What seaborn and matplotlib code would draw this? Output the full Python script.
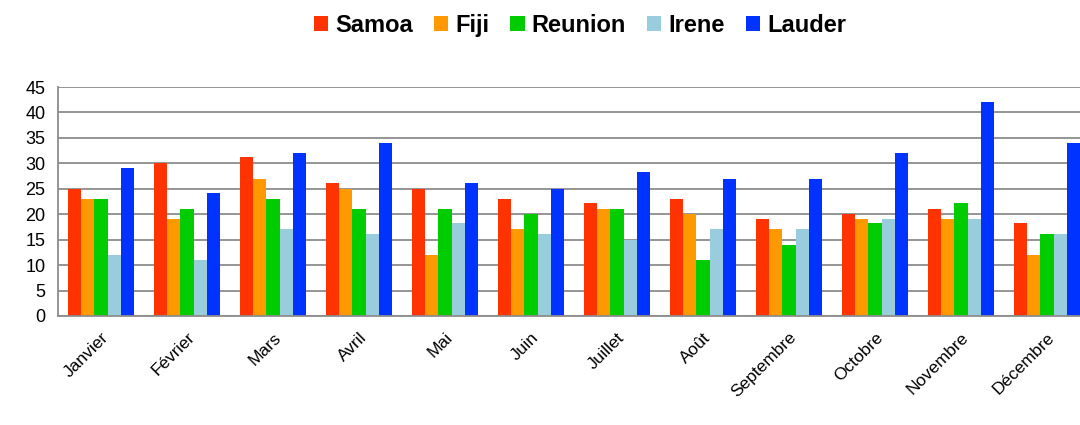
import matplotlib
matplotlib.use("Agg")
import matplotlib.pyplot as plt
from matplotlib.patches import Patch
import pandas as pd
import seaborn as sns

months = ["Janvier", "Février", "Mars", "Avril", "Mai", "Juin", "Juillet",
          "Août", "Septembre", "Octobre", "Novembre", "Décembre"]
stations = ["Samoa", "Fiji", "Reunion", "Irene", "Lauder"]

samoa = [25, 30, 31.3, 26.2, 25, 23, 22.2, 23, 19, 20, 21, 18.2]
fiji = [23, 19, 27, 25, 12, 17, 21, 20, 17, 19, 19, 12]
reunion = [23, 21, 23, 21, 21, 20, 21, 11.1, 13.9, 18.2, 22.2, 16.2]
irene = [12, 11.1, 17, 16.2, 18.2, 16.2, 15, 17, 17, 19, 19, 16.2]
lauder = [29, 24.2, 32, 34, 26.2, 25, 28.2, 27, 27, 32, 42, 34]

colors = ["#FF3300", "#FF9900", "#00CC00", "#99CCDD", "#0033FF"]

df = pd.DataFrame({
    "Mois": months * 5,
    "Station": [s for s in stations for _ in months],
    "Valeur": samoa + fiji + reunion + irene + lauder,
})

sns.set_style("white")
plt.rcParams["font.family"] = ["Liberation Sans", "DejaVu Sans"]
plt.rcParams["text.color"] = "black"

fig = plt.figure(figsize=(10.8, 4.25), dpi=100)
ax = fig.add_axes([58 / 1080, 109 / 425, 1032 / 1080, 229 / 425])

sns.barplot(data=df, x="Mois", y="Valeur", hue="Station", order=months,
            hue_order=stations, palette=colors, width=0.77, saturation=1,
            linewidth=0, legend=False, ax=ax)

ax.set_xlim(-0.5, 11.5)
ax.set_ylim(0, 45)
ax.set_yticks(range(0, 46, 5))
ax.set_xlabel("")
ax.set_ylabel("")
ax.set_axisbelow(True)
ax.yaxis.grid(True, color="#8c8c8c", linewidth=1.3)

for side in ["top", "right"]:
    ax.spines[side].set_visible(False)
for side in ["left", "bottom"]:
    ax.spines[side].set_color("#8c8c8c")
    ax.spines[side].set_linewidth(1.3)

ax.set_xticks([i - 0.5 for i in range(13)], minor=True)
ax.tick_params(axis="x", which="minor", length=6, width=1.2, color="#8c8c8c", direction="out")
ax.tick_params(axis="x", which="major", length=0, pad=10, labelcolor="black")
ax.tick_params(axis="y", length=5, width=1.2, color="#8c8c8c", labelsize=13, pad=4,
               labelcolor="black")
ax.set_xticks(range(12))
ax.set_xticklabels(months, rotation=45, ha="right", rotation_mode="anchor", fontsize=12.5)

handles = [Patch(facecolor=c, edgecolor="none") for c in colors]
fig.legend(handles, stations, loc="center", bbox_to_anchor=(0.537, 0.94), ncol=5,
           frameon=False, prop={"weight": "bold", "size": 17},
           handlelength=0.6, handleheight=0.6, handletextpad=0.3, columnspacing=0.9)

fig.savefig("out.png", dpi=100)
